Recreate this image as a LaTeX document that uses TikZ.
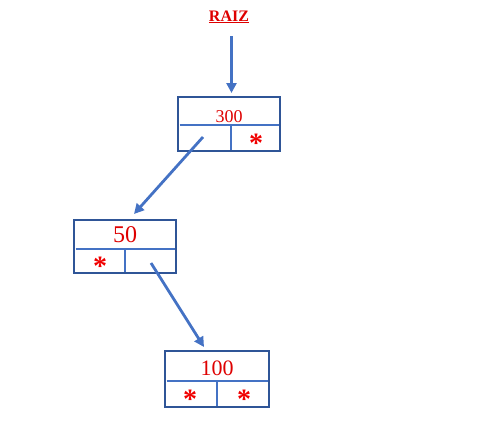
\documentclass[tikz,border=0pt]{standalone}
\usepackage{fontspec}
\setmainfont{Liberation Serif}
\usetikzlibrary{arrows.meta}
\definecolor{boxblue}{RGB}{47,85,151}
\definecolor{lineblue}{RGB}{68,114,196}
\definecolor{txtred}{RGB}{222,0,0}
\definecolor{starred}{RGB}{240,0,0}
\tikzset{
  outerbox/.style={draw=boxblue, line width=2.8pt, inner sep=0pt},
  cellline/.style={draw=lineblue, line width=1.4pt},
  numtxt/.style={text=txtred, inner sep=0pt},
  startxt/.style={text=starred, font=\fontsize{28}{28}\selectfont\bfseries, inner sep=0pt},
  arr/.style={draw=lineblue, line width=2.8pt, -{Triangle[length=10pt,width=10pt]}},
}
\begin{document}
\begin{tikzpicture}[x=1pt,y=-1pt]
\useasboundingbox (0,0) rectangle (477,447);
% title
\node[numtxt, font=\fontsize{16}{16}\selectfont\bfseries] (raiz) at (229,17) {\underline{RAIZ}};
% box 300
\node[outerbox, minimum width=102pt, minimum height=54pt] (b1) at (229,124) {};
\draw[cellline] (179.5,125) -- (278.5,125);
\draw[cellline] (231,125) -- (231,149.5);
\node[numtxt, font=\fontsize{18}{18}\selectfont] (n1) at (229,117) {300};
\coordinate (b1L) at (203,137);
\node[startxt] (s1R) at (256,143.5) {*};
% box 50
\node[outerbox, minimum width=102pt, minimum height=53pt] (b2) at (125,246.5) {};
\draw[cellline] (75.5,249) -- (174.5,249);
\draw[cellline] (125,249) -- (125,271.5);
\node[numtxt, font=\fontsize{24}{24}\selectfont] (n2) at (125,235) {50};
\node[startxt] (s2L) at (100,266.5) {*};
\coordinate (b2R) at (151,263);
% box 100
\node[outerbox, minimum width=104pt, minimum height=56pt] (b3) at (217,379) {};
\draw[cellline] (166.5,381) -- (267.5,381);
\draw[cellline] (217,381) -- (217,405.5);
\node[numtxt, font=\fontsize{22}{22}\selectfont] (n3) at (217,368) {100};
\node[startxt] (s3L) at (190,399.5) {*};
\node[startxt] (s3R) at (244,399.5) {*};
% arrows
\coordinate (a0s) at (231.5,36);
\coordinate (a0e) at (231.5,93);
\coordinate (a1e) at (134,214);
\coordinate (a2e) at (204,347);
\draw[arr] (a0s) -- (a0e);
\draw[arr] (b1L) -- (a1e);
\draw[arr] (b2R) -- (a2e);
\end{tikzpicture}
\end{document}
